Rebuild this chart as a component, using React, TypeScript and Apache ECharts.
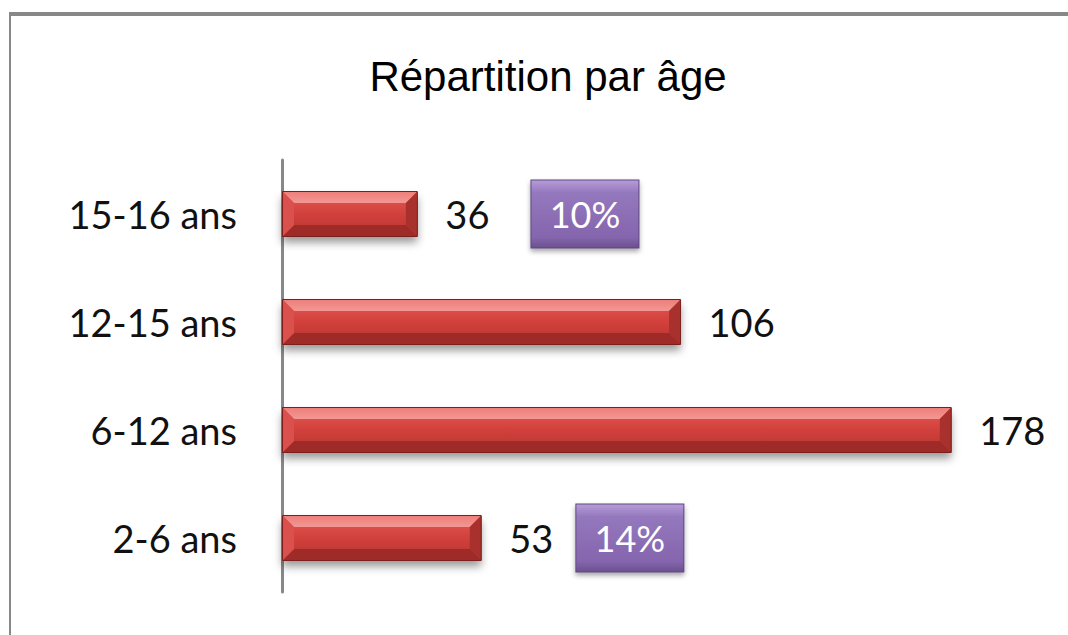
import React, { useEffect, useRef } from "react";
import * as echarts from "echarts";

const categories = ["2-6 ans", "6-12 ans", "12-15 ans", "15-16 ans"];
const values = [53, 178, 106, 36];
const percents = ["14%", "", "", "10%"];
const chartTitle = "Répartition par âge";

const GAPS = [23, 0, 0, 42];
const LABEL_FONT = "Lato, 'Open Sans', sans-serif";

export default function App() {
  const ref = useRef<HTMLDivElement>(null);
  useEffect(() => {
    if (!ref.current) return;
    const chart = echarts.init(ref.current, undefined, { renderer: "svg" });

    const faceGradient = new echarts.graphic.LinearGradient(0, 0, 0, 1, [
      { offset: 0, color: "#e35a56" },
      { offset: 0.5, color: "#d2403c" },
      { offset: 1, color: "#b53430" },
    ]);
    const boxGradient = new echarts.graphic.LinearGradient(0, 0, 0, 1, [
      { offset: 0, color: "#b69bd8" },
      { offset: 0.18, color: "#9478bd" },
      { offset: 0.85, color: "#8565ae" },
      { offset: 1, color: "#6c518f" },
    ]);

    const barData = values.map((v, i) => {
      if (!percents[i]) return v;
      return {
        value: v,
        label: {
          formatter: "{v|{c}}{g|}{p|" + percents[i] + "}",
          rich: {
            v: { fontSize: 38, fontFamily: LABEL_FONT, color: "#111", verticalAlign: "middle" },
            g: { width: GAPS[i] },
            p: {
              width: 107,
              height: 67,
              lineHeight: 67,
              align: "center",
              verticalAlign: "middle",
              backgroundColor: boxGradient as any,
              borderColor: "#5d4880",
              borderWidth: 1,
              color: "#ffffff",
              fontSize: 36,
              fontFamily: LABEL_FONT,
              shadowColor: "rgba(0,0,0,0.35)",
              shadowBlur: 5,
              shadowOffsetY: 3,
            },
          },
        },
      };
    });

    chart.setOption({
      animation: false,
      backgroundColor: "#ffffff",
      graphic: [
        { type: "rect", shape: { x: 9, y: 12, width: 1059, height: 4 }, style: { fill: "#888888" } },
        { type: "rect", shape: { x: 9, y: 12, width: 2, height: 623 }, style: { fill: "#888888" } },
        {
          type: "text",
          x: 548,
          y: 76,
          style: {
            text: chartTitle,
            fontSize: 42,
            fontFamily: "'Liberation Sans', Arial, sans-serif",
            fill: "#000",
            align: "center",
            verticalAlign: "middle",
          },
        },
      ],
      grid: { left: 282, top: 160, width: 752, height: 432, containLabel: false },
      xAxis: { type: "value", min: 0, max: 200, show: false },
      yAxis: {
        type: "category",
        data: categories,
        axisLine: { show: true, lineStyle: { color: "#888888", width: 3 } },
        axisTick: { show: false },
        splitLine: { show: false },
        axisLabel: { margin: 45, fontSize: 38, fontFamily: LABEL_FONT, color: "#111" },
      },
      series: [
        {
          type: "bar",
          data: barData,
          barWidth: 45,
          itemStyle: {
            color: faceGradient,
            borderColor: "#7a1f1c",
            borderWidth: 1,
            shadowColor: "rgba(0,0,0,0.4)",
            shadowBlur: 8,
            shadowOffsetY: 6,
          },
          label: {
            show: true,
            position: "right",
            distance: 28,
            fontSize: 38,
            fontFamily: LABEL_FONT,
            color: "#111",
          },
          z: 2,
        },
        {
          type: "custom",
          data: values.map((v, i) => [v, i]),
          encode: { x: 0, y: 1 },
          z: 3,
          silent: true,
          renderItem: (params: any, api: any) => {
            const v = api.value(0);
            const cat = api.value(1);
            const s = api.coord([0, cat]);
            const e = api.coord([v, cat]);
            const h = 45;
            const x0 = s[0] + 1;
            const x1 = e[0] - 0.5;
            const y0 = s[1] - h / 2 + 0.5;
            const y1 = s[1] + h / 2 - 0.5;
            const b = 11;
            const top = new echarts.graphic.LinearGradient(0, 0, 0, 1, [
              { offset: 0, color: "#ee7f7b" },
              { offset: 1, color: "#f39793" },
            ]);
            return {
              type: "group",
              children: [
                {
                  type: "polygon",
                  shape: { points: [[x0, y0], [x1, y0], [x1 - b, y0 + b], [x0 + b, y0 + b]] },
                  style: { fill: top },
                },
                {
                  type: "polygon",
                  shape: { points: [[x0, y1], [x1, y1], [x1 - b, y1 - b], [x0 + b, y1 - b]] },
                  style: { fill: "#9e2b28" },
                },
                {
                  type: "polygon",
                  shape: { points: [[x0, y0], [x0 + b, y0 + b], [x0 + b, y1 - b], [x0, y1]] },
                  style: { fill: "#d9504c" },
                },
                {
                  type: "polygon",
                  shape: { points: [[x1, y0], [x1 - b, y0 + b], [x1 - b, y1 - b], [x1, y1]] },
                  style: { fill: "#a9312d" },
                },
                {
                  type: "rect",
                  shape: { x: x0 - 0.5, y: y0 - 0.5, width: x1 - x0 + 1, height: y1 - y0 + 1 },
                  style: { fill: "none", stroke: "#7a1f1c", lineWidth: 1 },
                },
              ],
            };
          },
        },
      ],
    });
    return () => chart.dispose();
  }, []);
  return (
    <div
      ref={ref}
      style={{ position: "absolute", left: 0, top: 0, width: 1068, height: 635 }}
    />
  );
}
